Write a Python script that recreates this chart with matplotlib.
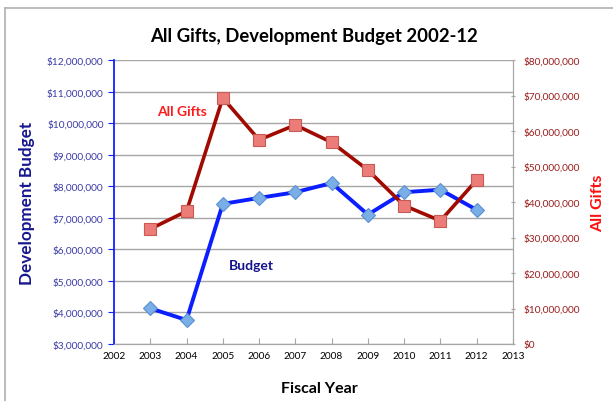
import matplotlib.pyplot as plt
from matplotlib.lines import Line2D
from matplotlib.ticker import FuncFormatter

plt.rcParams["font.family"] = ["Lato", "DejaVu Sans"]

years = [2003, 2004, 2005, 2006, 2007, 2008, 2009, 2010, 2011, 2012]
budget = [4130000, 3760000, 7440000, 7630000, 7810000, 8100000,
          7100000, 7810000, 7890000, 7250000]
gifts = [32400000, 37400000, 69300000, 57500000, 61700000, 56800000,
         49000000, 39000000, 34700000, 46200000]
year_ticks = list(range(2002, 2014))
budget_ticks = list(range(3000000, 12000001, 1000000))
gift_ticks = list(range(0, 80000001, 10000000))


def money(v, _pos):
    return f"${v:,.0f}"


fig = plt.figure(figsize=(6.13, 4.02), dpi=100)
ax = fig.add_axes([114 / 613, 57 / 402, 399 / 613, 284 / 402])
ax2 = ax.twinx()

# budget on the left axis
ax.plot(years, budget, color="#0a1eff", lw=2.8, marker="D", ms=7.5,
        mfc="#7aaee6", mec="#5b8fcf", mew=0.8, zorder=3)
ax.set_xlim(2002, 2013)
ax.set_ylim(3000000, 12000000)
ax.set_xticks(year_ticks)
ax.set_yticks(budget_ticks)
ax.yaxis.set_major_formatter(FuncFormatter(money))
ax.grid(axis="y", color="#a6a6a6", lw=1)
ax.set_axisbelow(True)

# gifts on the right axis
ax2.plot(years, gifts, color="#a00a00", lw=2.6, marker="s", ms=8.5,
         mfc="#ec7c78", mec="#c85a55", mew=0.8, zorder=3)
ax2.set_ylim(0, 80000000)
ax2.set_yticks(gift_ticks)
ax2.yaxis.set_major_formatter(FuncFormatter(money))

for a in (ax, ax2):
    a.spines["top"].set_visible(False)
    a.spines["bottom"].set_color("#a6a6a6")
    a.spines["right"].set_color("#a6a6a6")
ax.spines["left"].set_color("#1020ff")
ax.spines["left"].set_linewidth(1.3)
ax2.spines["left"].set_visible(False)

ax.tick_params(axis="y", colors="#1020ff", labelcolor="#3a3aa6",
               labelsize=7.3, length=4, direction="out")
ax.tick_params(axis="x", colors="#a6a6a6", labelcolor="black",
               labelsize=7.3, length=4, direction="in", pad=5)
ax2.tick_params(axis="y", colors="#a6a6a6", labelcolor="#9a1c1c",
                labelsize=7.3, length=3, direction="inout", pad=6)

ax.set_title("All Gifts, Development Budget 2002-12", fontsize=13.3,
             fontweight="bold", pad=14)
ax.set_xlabel("Fiscal Year", fontsize=11.5, fontweight="bold")
ax.xaxis.set_label_coords(0.515, -0.13)
ax.set_ylabel("Development Budget", fontsize=12.3, fontweight="bold",
              color="#16168f")
ax.yaxis.set_label_coords(-0.198, 0.5)
ax2.set_ylabel("All Gifts", fontsize=11.5, fontweight="bold", color="#ff0d0d")
ax2.yaxis.set_label_coords(1.195, 0.5)

# inline series labels
ax2.text(2003.87, 65500000, "All Gifts", color="#ff1a1a", fontsize=10,
         fontweight="bold", ha="center", va="center")
ax.text(2005.8, 5500000, "Budget", color="#14148c", fontsize=10,
        fontweight="bold", ha="center", va="center")

# chart frame (top and left edges visible)
fig.add_artist(Line2D([5 / 613, 1.0], [1 - 9 / 402, 1 - 9 / 402],
                      color="#b0b0b0", lw=1.2, transform=fig.transFigure))
fig.add_artist(Line2D([5 / 613, 5 / 613], [0.0, 1 - 9 / 402],
                      color="#b0b0b0", lw=1.2, transform=fig.transFigure))

fig.savefig("out.png", dpi=100)
